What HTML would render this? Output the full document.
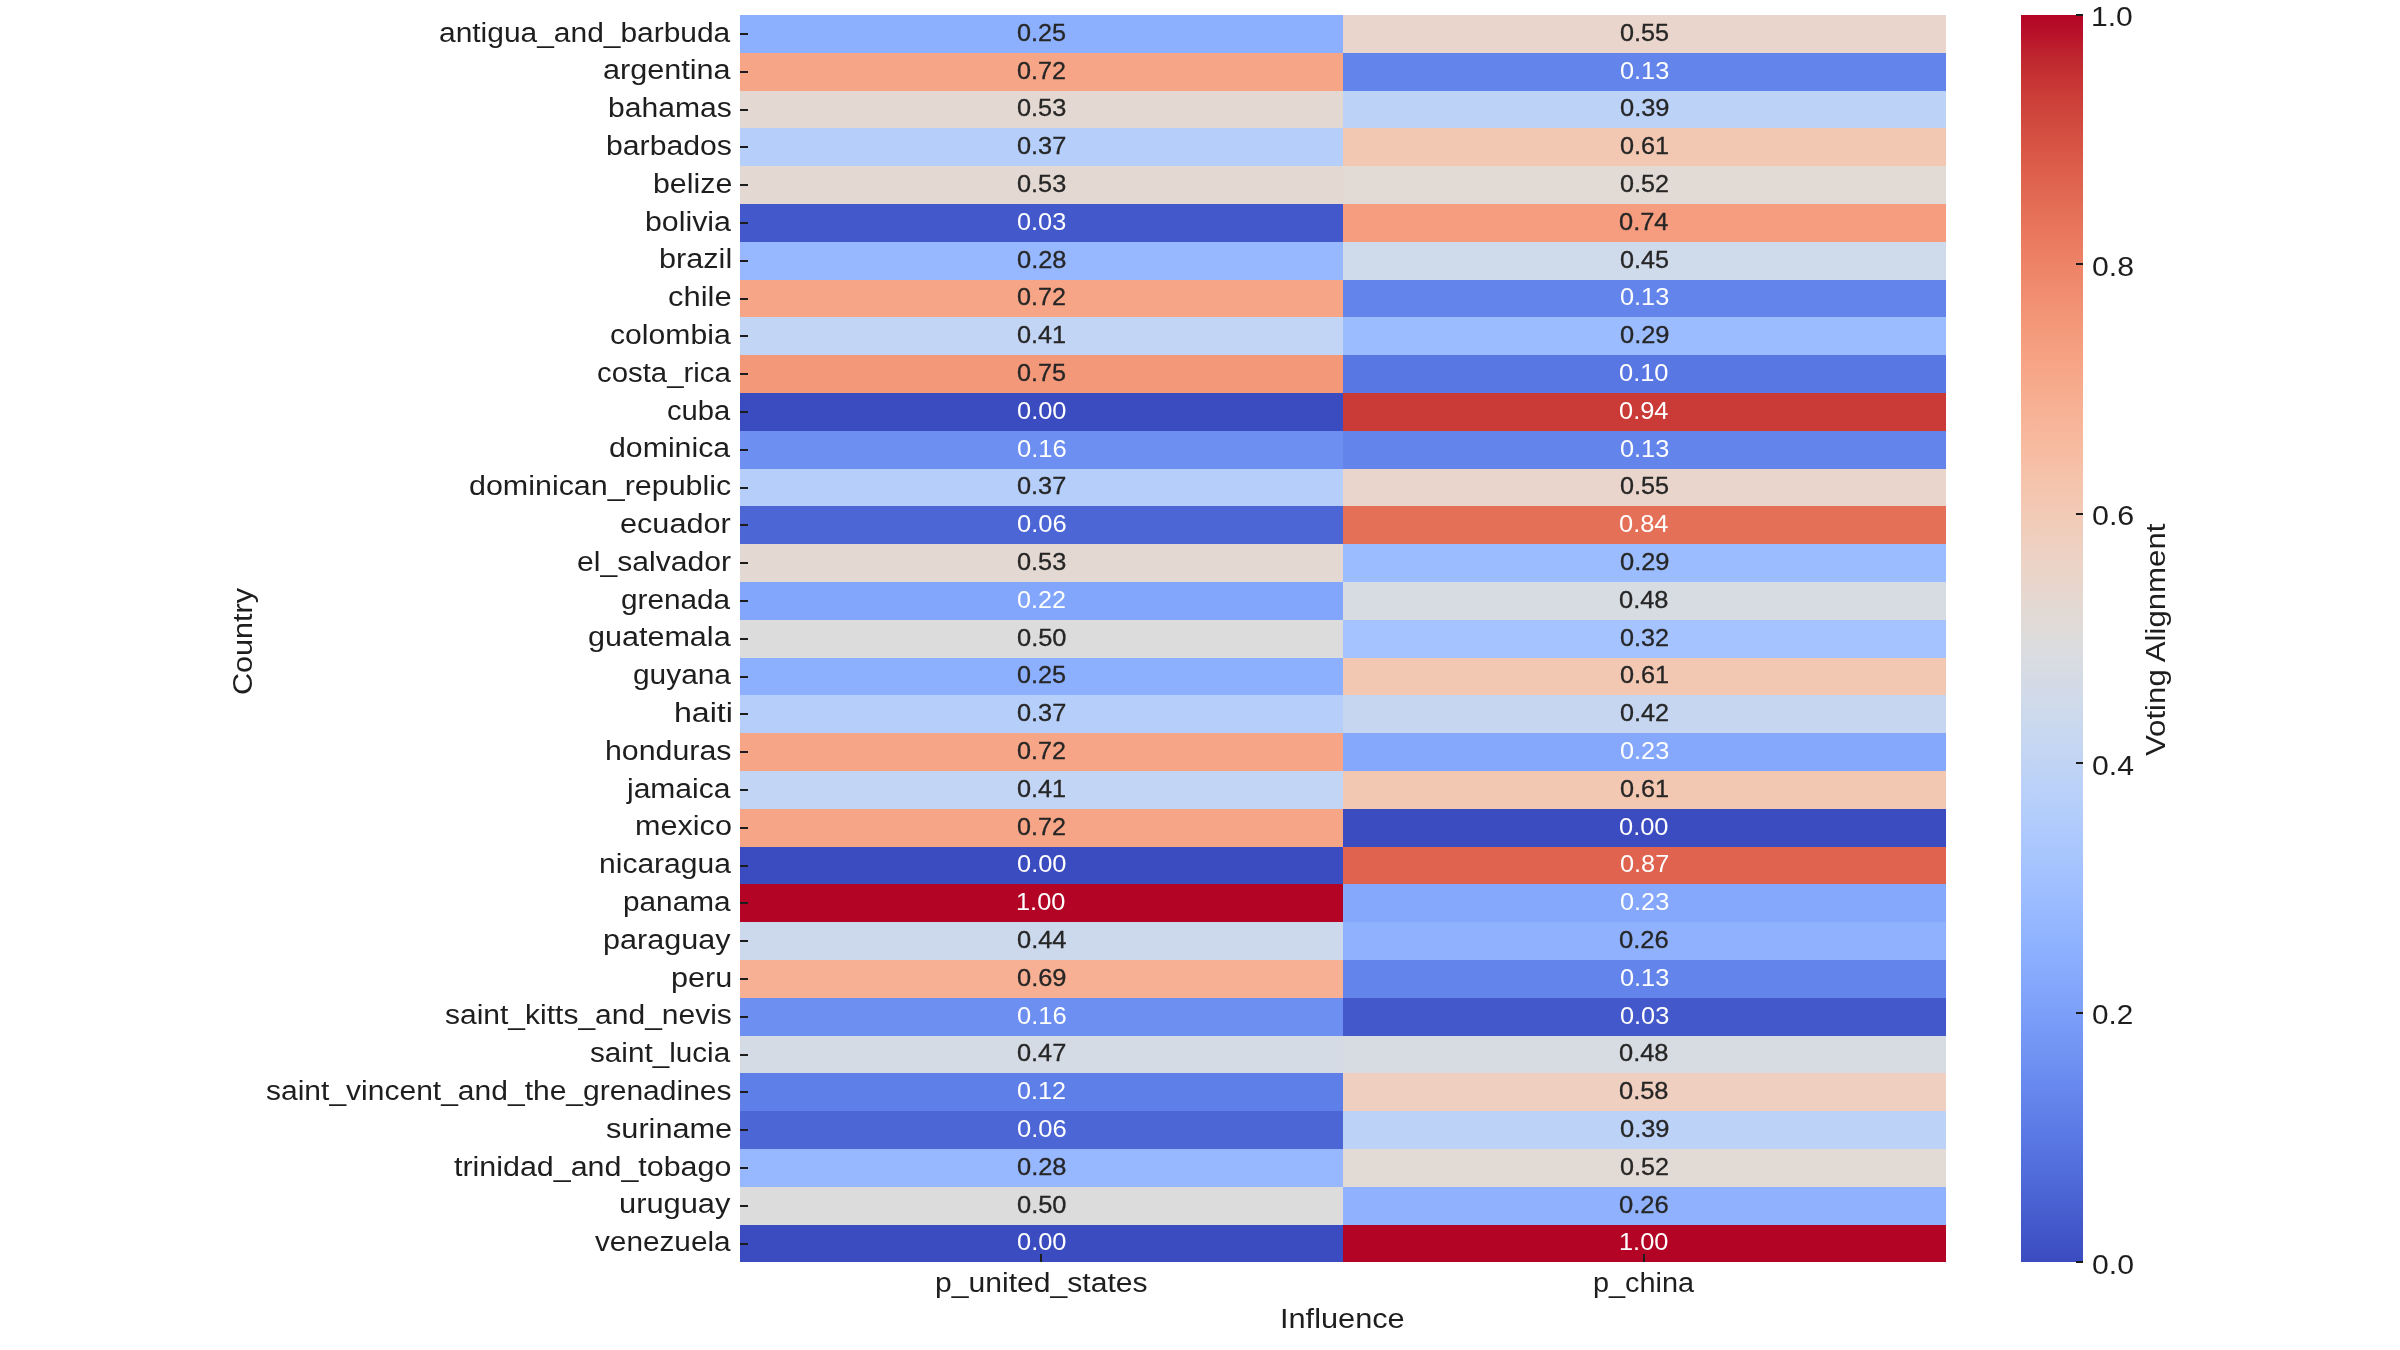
<!DOCTYPE html>
<html><head><meta charset="utf-8"><title>Voting Alignment Heatmap</title>
<style>
html,body{margin:0;padding:0;background:#ffffff;}
body{width:2400px;height:1350px;position:relative;overflow:hidden;font-family:"Liberation Sans",sans-serif;}
#fig{position:absolute;left:0;top:0;width:2400px;height:1350px;filter:grayscale(0);}
.c{position:absolute;}
.t{position:absolute;line-height:0;white-space:nowrap;transform-origin:0 0;}
.tk{position:absolute;background:#1c1c1c;}
.rw{position:absolute;width:0;height:0;transform:rotate(-90deg);transform-origin:0 0;}
</style></head><body>
<div id="fig">
<div id="heatmap">
<div class="c" style="left:740.00px;top:15.00px;width:603.30px;height:38.30px;background:#8db0fe"></div>
<div class="c" style="left:1342.80px;top:15.00px;width:602.80px;height:38.30px;background:#e9d5cb"></div>
<div class="c" style="left:740.00px;top:52.80px;width:603.30px;height:38.30px;background:#f6a586"></div>
<div class="c" style="left:1342.80px;top:52.80px;width:602.80px;height:38.30px;background:#6384eb"></div>
<div class="c" style="left:740.00px;top:90.60px;width:603.30px;height:38.30px;background:#e4d9d2"></div>
<div class="c" style="left:1342.80px;top:90.60px;width:602.80px;height:38.30px;background:#bcd2f7"></div>
<div class="c" style="left:740.00px;top:128.40px;width:603.30px;height:38.30px;background:#b6cefa"></div>
<div class="c" style="left:1342.80px;top:128.40px;width:602.80px;height:38.30px;background:#f3c8b2"></div>
<div class="c" style="left:740.00px;top:166.20px;width:603.30px;height:38.30px;background:#e4d9d2"></div>
<div class="c" style="left:1342.80px;top:166.20px;width:602.80px;height:38.30px;background:#e2dad5"></div>
<div class="c" style="left:740.00px;top:204.00px;width:603.30px;height:38.30px;background:#4358cb"></div>
<div class="c" style="left:1342.80px;top:204.00px;width:602.80px;height:38.30px;background:#f59d7e"></div>
<div class="c" style="left:740.00px;top:241.80px;width:603.30px;height:38.30px;background:#97b8ff"></div>
<div class="c" style="left:1342.80px;top:241.80px;width:602.80px;height:38.30px;background:#cfdaea"></div>
<div class="c" style="left:740.00px;top:279.60px;width:603.30px;height:38.30px;background:#f6a586"></div>
<div class="c" style="left:1342.80px;top:279.60px;width:602.80px;height:38.30px;background:#6384eb"></div>
<div class="c" style="left:740.00px;top:317.40px;width:603.30px;height:38.30px;background:#c3d5f4"></div>
<div class="c" style="left:1342.80px;top:317.40px;width:602.80px;height:38.30px;background:#9bbcff"></div>
<div class="c" style="left:740.00px;top:355.20px;width:603.30px;height:38.30px;background:#f4987a"></div>
<div class="c" style="left:1342.80px;top:355.20px;width:602.80px;height:38.30px;background:#5977e3"></div>
<div class="c" style="left:740.00px;top:393.00px;width:603.30px;height:38.30px;background:#3b4cc0"></div>
<div class="c" style="left:1342.80px;top:393.00px;width:602.80px;height:38.30px;background:#ca3b37"></div>
<div class="c" style="left:740.00px;top:430.80px;width:603.30px;height:38.30px;background:#6c8ff1"></div>
<div class="c" style="left:1342.80px;top:430.80px;width:602.80px;height:38.30px;background:#6384eb"></div>
<div class="c" style="left:740.00px;top:468.60px;width:603.30px;height:38.30px;background:#b6cefa"></div>
<div class="c" style="left:1342.80px;top:468.60px;width:602.80px;height:38.30px;background:#e9d5cb"></div>
<div class="c" style="left:740.00px;top:506.40px;width:603.30px;height:38.30px;background:#4c66d6"></div>
<div class="c" style="left:1342.80px;top:506.40px;width:602.80px;height:38.30px;background:#e57058"></div>
<div class="c" style="left:740.00px;top:544.20px;width:603.30px;height:38.30px;background:#e4d9d2"></div>
<div class="c" style="left:1342.80px;top:544.20px;width:602.80px;height:38.30px;background:#9bbcff"></div>
<div class="c" style="left:740.00px;top:582.00px;width:603.30px;height:38.30px;background:#82a6fb"></div>
<div class="c" style="left:1342.80px;top:582.00px;width:602.80px;height:38.30px;background:#d7dce3"></div>
<div class="c" style="left:740.00px;top:619.80px;width:603.30px;height:38.30px;background:#dddcdc"></div>
<div class="c" style="left:1342.80px;top:619.80px;width:602.80px;height:38.30px;background:#a5c3fe"></div>
<div class="c" style="left:740.00px;top:657.60px;width:603.30px;height:38.30px;background:#8db0fe"></div>
<div class="c" style="left:1342.80px;top:657.60px;width:602.80px;height:38.30px;background:#f3c8b2"></div>
<div class="c" style="left:740.00px;top:695.40px;width:603.30px;height:38.30px;background:#b6cefa"></div>
<div class="c" style="left:1342.80px;top:695.40px;width:602.80px;height:38.30px;background:#c6d6f1"></div>
<div class="c" style="left:740.00px;top:733.20px;width:603.30px;height:38.30px;background:#f6a586"></div>
<div class="c" style="left:1342.80px;top:733.20px;width:602.80px;height:38.30px;background:#85a8fc"></div>
<div class="c" style="left:740.00px;top:771.00px;width:603.30px;height:38.30px;background:#c3d5f4"></div>
<div class="c" style="left:1342.80px;top:771.00px;width:602.80px;height:38.30px;background:#f3c8b2"></div>
<div class="c" style="left:740.00px;top:808.80px;width:603.30px;height:38.30px;background:#f6a586"></div>
<div class="c" style="left:1342.80px;top:808.80px;width:602.80px;height:38.30px;background:#3b4cc0"></div>
<div class="c" style="left:740.00px;top:846.60px;width:603.30px;height:38.30px;background:#3b4cc0"></div>
<div class="c" style="left:1342.80px;top:846.60px;width:602.80px;height:38.30px;background:#df634e"></div>
<div class="c" style="left:740.00px;top:884.40px;width:603.30px;height:38.30px;background:#b40426"></div>
<div class="c" style="left:1342.80px;top:884.40px;width:602.80px;height:38.30px;background:#85a8fc"></div>
<div class="c" style="left:740.00px;top:922.20px;width:603.30px;height:38.30px;background:#ccd9ed"></div>
<div class="c" style="left:1342.80px;top:922.20px;width:602.80px;height:38.30px;background:#90b2fe"></div>
<div class="c" style="left:740.00px;top:960.00px;width:603.30px;height:38.30px;background:#f7b093"></div>
<div class="c" style="left:1342.80px;top:960.00px;width:602.80px;height:38.30px;background:#6384eb"></div>
<div class="c" style="left:740.00px;top:997.80px;width:603.30px;height:38.30px;background:#6c8ff1"></div>
<div class="c" style="left:1342.80px;top:997.80px;width:602.80px;height:38.30px;background:#4358cb"></div>
<div class="c" style="left:740.00px;top:1035.60px;width:603.30px;height:38.30px;background:#d5dbe5"></div>
<div class="c" style="left:1342.80px;top:1035.60px;width:602.80px;height:38.30px;background:#d7dce3"></div>
<div class="c" style="left:740.00px;top:1073.40px;width:603.30px;height:38.30px;background:#5f7fe8"></div>
<div class="c" style="left:1342.80px;top:1073.40px;width:602.80px;height:38.30px;background:#efcfbf"></div>
<div class="c" style="left:740.00px;top:1111.20px;width:603.30px;height:38.30px;background:#4c66d6"></div>
<div class="c" style="left:1342.80px;top:1111.20px;width:602.80px;height:38.30px;background:#bcd2f7"></div>
<div class="c" style="left:740.00px;top:1149.00px;width:603.30px;height:38.30px;background:#97b8ff"></div>
<div class="c" style="left:1342.80px;top:1149.00px;width:602.80px;height:38.30px;background:#e2dad5"></div>
<div class="c" style="left:740.00px;top:1186.80px;width:603.30px;height:38.30px;background:#dddcdc"></div>
<div class="c" style="left:1342.80px;top:1186.80px;width:602.80px;height:38.30px;background:#90b2fe"></div>
<div class="c" style="left:740.00px;top:1224.60px;width:603.30px;height:37.80px;background:#3b4cc0"></div>
<div class="c" style="left:1342.80px;top:1224.60px;width:602.80px;height:37.80px;background:#b40426"></div>
</div>
<div id="colorbar">
<div class="c" style="left:2021.0px;top:15.0px;width:62.30px;height:1247.40px;background:linear-gradient(to top,#3b4cc0 0.00%,#3f53c6 1.56%,#445acc 3.12%,#4961d2 4.69%,#4e68d8 6.25%,#536edd 7.81%,#5875e1 9.38%,#5d7ce6 10.94%,#6282ea 12.50%,#6788ee 14.06%,#6c8ff1 15.62%,#7295f4 17.19%,#779af7 18.75%,#7da0f9 20.31%,#82a6fb 21.88%,#88abfd 23.44%,#8db0fe 25.00%,#93b5fe 26.56%,#98b9ff 28.12%,#9ebeff 29.69%,#a3c2fe 31.25%,#a9c6fd 32.81%,#aec9fc 34.38%,#b3cdfb 35.94%,#b9d0f9 37.50%,#bed2f6 39.06%,#c3d5f4 40.62%,#c7d7f0 42.19%,#ccd9ed 43.75%,#d1dae9 45.31%,#d5dbe5 46.88%,#d9dce1 48.44%,#dddcdc 50.00%,#e1dad6 51.56%,#e5d8d1 53.12%,#e9d5cb 54.69%,#ecd3c5 56.25%,#efcfbf 57.81%,#f1ccb8 59.38%,#f3c8b2 60.94%,#f5c4ac 62.50%,#f6bfa6 64.06%,#f7ba9f 65.62%,#f7b599 67.19%,#f7b093 68.75%,#f7aa8c 70.31%,#f6a586 71.88%,#f59f80 73.44%,#f4987a 75.00%,#f29274 76.56%,#f08b6e 78.12%,#ee8468 79.69%,#eb7d62 81.25%,#e8765c 82.81%,#e46e56 84.38%,#e16751 85.94%,#dd5f4b 87.50%,#d85646 89.06%,#d44e41 90.62%,#cf453c 92.19%,#ca3b37 93.75%,#c43032 95.31%,#be242e 96.88%,#b8122a 98.44%,#b40426 100.00%)"></div>
</div>
<div id="ticks">
<div class="tk" style="left:740px;top:33px;width:8px;height:2px"></div>
<div class="tk" style="left:740px;top:71px;width:8px;height:2px"></div>
<div class="tk" style="left:740px;top:109px;width:8px;height:2px"></div>
<div class="tk" style="left:740px;top:146px;width:8px;height:2px"></div>
<div class="tk" style="left:740px;top:184px;width:8px;height:2px"></div>
<div class="tk" style="left:740px;top:222px;width:8px;height:2px"></div>
<div class="tk" style="left:740px;top:260px;width:8px;height:2px"></div>
<div class="tk" style="left:740px;top:298px;width:8px;height:2px"></div>
<div class="tk" style="left:740px;top:335px;width:8px;height:2px"></div>
<div class="tk" style="left:740px;top:373px;width:8px;height:2px"></div>
<div class="tk" style="left:740px;top:411px;width:8px;height:2px"></div>
<div class="tk" style="left:740px;top:449px;width:8px;height:2px"></div>
<div class="tk" style="left:740px;top:487px;width:8px;height:2px"></div>
<div class="tk" style="left:740px;top:524px;width:8px;height:2px"></div>
<div class="tk" style="left:740px;top:562px;width:8px;height:2px"></div>
<div class="tk" style="left:740px;top:600px;width:8px;height:2px"></div>
<div class="tk" style="left:740px;top:638px;width:8px;height:2px"></div>
<div class="tk" style="left:740px;top:676px;width:8px;height:2px"></div>
<div class="tk" style="left:740px;top:713px;width:8px;height:2px"></div>
<div class="tk" style="left:740px;top:751px;width:8px;height:2px"></div>
<div class="tk" style="left:740px;top:789px;width:8px;height:2px"></div>
<div class="tk" style="left:740px;top:827px;width:8px;height:2px"></div>
<div class="tk" style="left:740px;top:865px;width:8px;height:2px"></div>
<div class="tk" style="left:740px;top:902px;width:8px;height:2px"></div>
<div class="tk" style="left:740px;top:940px;width:8px;height:2px"></div>
<div class="tk" style="left:740px;top:978px;width:8px;height:2px"></div>
<div class="tk" style="left:740px;top:1016px;width:8px;height:2px"></div>
<div class="tk" style="left:740px;top:1054px;width:8px;height:2px"></div>
<div class="tk" style="left:740px;top:1091px;width:8px;height:2px"></div>
<div class="tk" style="left:740px;top:1129px;width:8px;height:2px"></div>
<div class="tk" style="left:740px;top:1167px;width:8px;height:2px"></div>
<div class="tk" style="left:740px;top:1205px;width:8px;height:2px"></div>
<div class="tk" style="left:740px;top:1243px;width:8px;height:2px"></div>
<div class="tk" style="left:1040px;top:1254px;width:2px;height:8px"></div>
<div class="tk" style="left:1643px;top:1254px;width:2px;height:8px"></div>
<div class="tk" style="left:2076px;top:1261px;width:7px;height:2px"></div>
<div class="tk" style="left:2076px;top:1012px;width:7px;height:2px"></div>
<div class="tk" style="left:2076px;top:762px;width:7px;height:2px"></div>
<div class="tk" style="left:2076px;top:513px;width:7px;height:2px"></div>
<div class="tk" style="left:2076px;top:263px;width:7px;height:2px"></div>
<div class="tk" style="left:2076px;top:14px;width:7px;height:2px"></div>
</div>
<div id="annotations">
<div class="t" style="left:1016.89px;top:32.71px;font-size:23.9px;transform:scaleX(1.0544);color:#262626;-webkit-text-stroke:0.3px #262626">0.25</div>
<div class="t" style="left:1619.69px;top:32.71px;font-size:23.9px;transform:scaleX(1.0544);color:#262626;-webkit-text-stroke:0.3px #262626">0.55</div>
<div class="t" style="left:1017.06px;top:70.51px;font-size:23.9px;transform:scaleX(1.0524);color:#262626;-webkit-text-stroke:0.3px #262626">0.72</div>
<div class="t" style="left:1619.63px;top:70.51px;font-size:23.9px;transform:scaleX(1.0598);color:#ffffff">0.13</div>
<div class="t" style="left:1016.83px;top:108.31px;font-size:23.9px;transform:scaleX(1.0598);color:#262626;-webkit-text-stroke:0.3px #262626">0.53</div>
<div class="t" style="left:1619.51px;top:108.31px;font-size:23.9px;transform:scaleX(1.0649);color:#262626;-webkit-text-stroke:0.3px #262626">0.39</div>
<div class="t" style="left:1016.89px;top:146.11px;font-size:23.9px;transform:scaleX(1.0601);color:#262626;-webkit-text-stroke:0.3px #262626">0.37</div>
<div class="t" style="left:1619.75px;top:146.11px;font-size:23.9px;transform:scaleX(1.0575);color:#262626;-webkit-text-stroke:0.3px #262626">0.61</div>
<div class="t" style="left:1016.83px;top:183.91px;font-size:23.9px;transform:scaleX(1.0598);color:#262626;-webkit-text-stroke:0.3px #262626">0.53</div>
<div class="t" style="left:1619.86px;top:183.91px;font-size:23.9px;transform:scaleX(1.0524);color:#262626;-webkit-text-stroke:0.3px #262626">0.52</div>
<div class="t" style="left:1016.83px;top:221.71px;font-size:23.9px;transform:scaleX(1.0598);color:#ffffff">0.03</div>
<div class="t" style="left:1619.34px;top:221.71px;font-size:23.9px;transform:scaleX(1.0639);color:#262626;-webkit-text-stroke:0.3px #262626">0.74</div>
<div class="t" style="left:1016.66px;top:259.51px;font-size:23.9px;transform:scaleX(1.0646);color:#262626;-webkit-text-stroke:0.3px #262626">0.28</div>
<div class="t" style="left:1619.69px;top:259.51px;font-size:23.9px;transform:scaleX(1.0544);color:#262626;-webkit-text-stroke:0.3px #262626">0.45</div>
<div class="t" style="left:1017.06px;top:297.31px;font-size:23.9px;transform:scaleX(1.0524);color:#262626;-webkit-text-stroke:0.3px #262626">0.72</div>
<div class="t" style="left:1619.63px;top:297.31px;font-size:23.9px;transform:scaleX(1.0598);color:#ffffff">0.13</div>
<div class="t" style="left:1016.95px;top:335.11px;font-size:23.9px;transform:scaleX(1.0575);color:#262626;-webkit-text-stroke:0.3px #262626">0.41</div>
<div class="t" style="left:1619.51px;top:335.11px;font-size:23.9px;transform:scaleX(1.0649);color:#262626;-webkit-text-stroke:0.3px #262626">0.29</div>
<div class="t" style="left:1016.89px;top:372.91px;font-size:23.9px;transform:scaleX(1.0544);color:#262626;-webkit-text-stroke:0.3px #262626">0.75</div>
<div class="t" style="left:1619.46px;top:372.91px;font-size:23.9px;transform:scaleX(1.0646);color:#ffffff">0.10</div>
<div class="t" style="left:1016.66px;top:410.71px;font-size:23.9px;transform:scaleX(1.0646);color:#ffffff">0.00</div>
<div class="t" style="left:1619.34px;top:410.71px;font-size:23.9px;transform:scaleX(1.0639);color:#ffffff">0.94</div>
<div class="t" style="left:1016.59px;top:448.51px;font-size:23.9px;transform:scaleX(1.0700);color:#ffffff">0.16</div>
<div class="t" style="left:1619.63px;top:448.51px;font-size:23.9px;transform:scaleX(1.0598);color:#ffffff">0.13</div>
<div class="t" style="left:1016.89px;top:486.31px;font-size:23.9px;transform:scaleX(1.0601);color:#262626;-webkit-text-stroke:0.3px #262626">0.37</div>
<div class="t" style="left:1619.69px;top:486.31px;font-size:23.9px;transform:scaleX(1.0544);color:#262626;-webkit-text-stroke:0.3px #262626">0.55</div>
<div class="t" style="left:1016.59px;top:524.11px;font-size:23.9px;transform:scaleX(1.0700);color:#ffffff">0.06</div>
<div class="t" style="left:1619.34px;top:524.11px;font-size:23.9px;transform:scaleX(1.0639);color:#ffffff">0.84</div>
<div class="t" style="left:1016.83px;top:561.91px;font-size:23.9px;transform:scaleX(1.0598);color:#262626;-webkit-text-stroke:0.3px #262626">0.53</div>
<div class="t" style="left:1619.51px;top:561.91px;font-size:23.9px;transform:scaleX(1.0649);color:#262626;-webkit-text-stroke:0.3px #262626">0.29</div>
<div class="t" style="left:1017.06px;top:599.71px;font-size:23.9px;transform:scaleX(1.0524);color:#ffffff">0.22</div>
<div class="t" style="left:1619.46px;top:599.71px;font-size:23.9px;transform:scaleX(1.0646);color:#262626;-webkit-text-stroke:0.3px #262626">0.48</div>
<div class="t" style="left:1016.66px;top:637.51px;font-size:23.9px;transform:scaleX(1.0646);color:#262626;-webkit-text-stroke:0.3px #262626">0.50</div>
<div class="t" style="left:1619.86px;top:637.51px;font-size:23.9px;transform:scaleX(1.0524);color:#262626;-webkit-text-stroke:0.3px #262626">0.32</div>
<div class="t" style="left:1016.89px;top:675.31px;font-size:23.9px;transform:scaleX(1.0544);color:#262626;-webkit-text-stroke:0.3px #262626">0.25</div>
<div class="t" style="left:1619.75px;top:675.31px;font-size:23.9px;transform:scaleX(1.0575);color:#262626;-webkit-text-stroke:0.3px #262626">0.61</div>
<div class="t" style="left:1016.89px;top:713.11px;font-size:23.9px;transform:scaleX(1.0601);color:#262626;-webkit-text-stroke:0.3px #262626">0.37</div>
<div class="t" style="left:1619.86px;top:713.11px;font-size:23.9px;transform:scaleX(1.0524);color:#262626;-webkit-text-stroke:0.3px #262626">0.42</div>
<div class="t" style="left:1017.06px;top:750.91px;font-size:23.9px;transform:scaleX(1.0524);color:#262626;-webkit-text-stroke:0.3px #262626">0.72</div>
<div class="t" style="left:1619.63px;top:750.91px;font-size:23.9px;transform:scaleX(1.0598);color:#ffffff">0.23</div>
<div class="t" style="left:1016.95px;top:788.71px;font-size:23.9px;transform:scaleX(1.0575);color:#262626;-webkit-text-stroke:0.3px #262626">0.41</div>
<div class="t" style="left:1619.75px;top:788.71px;font-size:23.9px;transform:scaleX(1.0575);color:#262626;-webkit-text-stroke:0.3px #262626">0.61</div>
<div class="t" style="left:1017.06px;top:826.51px;font-size:23.9px;transform:scaleX(1.0524);color:#262626;-webkit-text-stroke:0.3px #262626">0.72</div>
<div class="t" style="left:1619.46px;top:826.51px;font-size:23.9px;transform:scaleX(1.0646);color:#ffffff">0.00</div>
<div class="t" style="left:1016.66px;top:864.31px;font-size:23.9px;transform:scaleX(1.0646);color:#ffffff">0.00</div>
<div class="t" style="left:1619.69px;top:864.31px;font-size:23.9px;transform:scaleX(1.0601);color:#ffffff">0.87</div>
<div class="t" style="left:1016.28px;top:902.11px;font-size:23.9px;transform:scaleX(1.0616);color:#ffffff">1.00</div>
<div class="t" style="left:1619.63px;top:902.11px;font-size:23.9px;transform:scaleX(1.0598);color:#ffffff">0.23</div>
<div class="t" style="left:1016.54px;top:939.91px;font-size:23.9px;transform:scaleX(1.0639);color:#262626;-webkit-text-stroke:0.3px #262626">0.44</div>
<div class="t" style="left:1619.39px;top:939.91px;font-size:23.9px;transform:scaleX(1.0700);color:#262626;-webkit-text-stroke:0.3px #262626">0.26</div>
<div class="t" style="left:1016.71px;top:977.71px;font-size:23.9px;transform:scaleX(1.0649);color:#262626;-webkit-text-stroke:0.3px #262626">0.69</div>
<div class="t" style="left:1619.63px;top:977.71px;font-size:23.9px;transform:scaleX(1.0598);color:#ffffff">0.13</div>
<div class="t" style="left:1016.59px;top:1015.51px;font-size:23.9px;transform:scaleX(1.0700);color:#ffffff">0.16</div>
<div class="t" style="left:1619.63px;top:1015.51px;font-size:23.9px;transform:scaleX(1.0598);color:#ffffff">0.03</div>
<div class="t" style="left:1016.89px;top:1053.31px;font-size:23.9px;transform:scaleX(1.0601);color:#262626;-webkit-text-stroke:0.3px #262626">0.47</div>
<div class="t" style="left:1619.46px;top:1053.31px;font-size:23.9px;transform:scaleX(1.0646);color:#262626;-webkit-text-stroke:0.3px #262626">0.48</div>
<div class="t" style="left:1017.06px;top:1091.11px;font-size:23.9px;transform:scaleX(1.0524);color:#ffffff">0.12</div>
<div class="t" style="left:1619.46px;top:1091.11px;font-size:23.9px;transform:scaleX(1.0646);color:#262626;-webkit-text-stroke:0.3px #262626">0.58</div>
<div class="t" style="left:1016.59px;top:1128.91px;font-size:23.9px;transform:scaleX(1.0700);color:#ffffff">0.06</div>
<div class="t" style="left:1619.51px;top:1128.91px;font-size:23.9px;transform:scaleX(1.0649);color:#262626;-webkit-text-stroke:0.3px #262626">0.39</div>
<div class="t" style="left:1016.66px;top:1166.71px;font-size:23.9px;transform:scaleX(1.0646);color:#262626;-webkit-text-stroke:0.3px #262626">0.28</div>
<div class="t" style="left:1619.86px;top:1166.71px;font-size:23.9px;transform:scaleX(1.0524);color:#262626;-webkit-text-stroke:0.3px #262626">0.52</div>
<div class="t" style="left:1016.66px;top:1204.51px;font-size:23.9px;transform:scaleX(1.0646);color:#262626;-webkit-text-stroke:0.3px #262626">0.50</div>
<div class="t" style="left:1619.39px;top:1204.51px;font-size:23.9px;transform:scaleX(1.0700);color:#262626;-webkit-text-stroke:0.3px #262626">0.26</div>
<div class="t" style="left:1016.66px;top:1242.31px;font-size:23.9px;transform:scaleX(1.0646);color:#ffffff">0.00</div>
<div class="t" style="left:1619.08px;top:1242.31px;font-size:23.9px;transform:scaleX(1.0616);color:#ffffff">1.00</div>
</div>
<div id="labels">
<div class="t" style="left:439.18px;top:31.55px;font-size:28.4px;transform:scaleX(1.0542);color:#1e1e1e">antigua_and_barbuda</div>
<div class="t" style="left:602.97px;top:69.35px;font-size:28.4px;transform:scaleX(1.0768);color:#1e1e1e">argentina</div>
<div class="t" style="left:607.68px;top:107.15px;font-size:28.4px;transform:scaleX(1.0600);color:#1e1e1e">bahamas</div>
<div class="t" style="left:605.64px;top:144.95px;font-size:28.4px;transform:scaleX(1.0632);color:#1e1e1e">barbados</div>
<div class="t" style="left:652.65px;top:182.75px;font-size:28.4px;transform:scaleX(1.0687);color:#1e1e1e">belize</div>
<div class="t" style="left:644.52px;top:220.55px;font-size:28.4px;transform:scaleX(1.0679);color:#1e1e1e">bolivia</div>
<div class="t" style="left:659.27px;top:258.35px;font-size:28.4px;transform:scaleX(1.0788);color:#1e1e1e">brazil</div>
<div class="t" style="left:668.27px;top:296.15px;font-size:28.4px;transform:scaleX(1.0902);color:#1e1e1e">chile</div>
<div class="t" style="left:609.77px;top:333.95px;font-size:28.4px;transform:scaleX(1.0628);color:#1e1e1e">colombia</div>
<div class="t" style="left:596.66px;top:371.75px;font-size:28.4px;transform:scaleX(1.0346);color:#1e1e1e">costa_rica</div>
<div class="t" style="left:667.26px;top:409.55px;font-size:28.4px;transform:scaleX(1.0285);color:#1e1e1e">cuba</div>
<div class="t" style="left:609.37px;top:447.35px;font-size:28.4px;transform:scaleX(1.0663);color:#1e1e1e">dominica</div>
<div class="t" style="left:468.99px;top:485.15px;font-size:28.4px;transform:scaleX(1.0720);color:#1e1e1e">dominican_republic</div>
<div class="t" style="left:620.31px;top:522.95px;font-size:28.4px;transform:scaleX(1.0792);color:#1e1e1e">ecuador</div>
<div class="t" style="left:577.11px;top:560.75px;font-size:28.4px;transform:scaleX(1.0600);color:#1e1e1e">el_salvador</div>
<div class="t" style="left:621.32px;top:598.55px;font-size:28.4px;transform:scaleX(1.0475);color:#1e1e1e">grenada</div>
<div class="t" style="left:587.82px;top:636.35px;font-size:28.4px;transform:scaleX(1.0758);color:#1e1e1e">guatemala</div>
<div class="t" style="left:632.56px;top:674.15px;font-size:28.4px;transform:scaleX(1.0514);color:#1e1e1e">guyana</div>
<div class="t" style="left:673.78px;top:711.95px;font-size:28.4px;transform:scaleX(1.1316);color:#1e1e1e">haiti</div>
<div class="t" style="left:605.07px;top:749.75px;font-size:28.4px;transform:scaleX(1.0681);color:#1e1e1e">honduras</div>
<div class="t" style="left:627.05px;top:787.55px;font-size:28.4px;transform:scaleX(1.0573);color:#1e1e1e">jamaica</div>
<div class="t" style="left:634.88px;top:825.35px;font-size:28.4px;transform:scaleX(1.0774);color:#1e1e1e">mexico</div>
<div class="t" style="left:598.60px;top:863.15px;font-size:28.4px;transform:scaleX(1.0579);color:#1e1e1e">nicaragua</div>
<div class="t" style="left:622.87px;top:900.95px;font-size:28.4px;transform:scaleX(1.0483);color:#1e1e1e">panama</div>
<div class="t" style="left:603.18px;top:938.75px;font-size:28.4px;transform:scaleX(1.0764);color:#1e1e1e">paraguay</div>
<div class="t" style="left:671.19px;top:976.55px;font-size:28.4px;transform:scaleX(1.0792);color:#1e1e1e">peru</div>
<div class="t" style="left:444.64px;top:1014.35px;font-size:28.4px;transform:scaleX(1.0567);color:#1e1e1e">saint_kitts_and_nevis</div>
<div class="t" style="left:590.32px;top:1052.15px;font-size:28.4px;transform:scaleX(1.0447);color:#1e1e1e">saint_lucia</div>
<div class="t" style="left:265.78px;top:1089.95px;font-size:28.4px;transform:scaleX(1.0571);color:#1e1e1e">saint_vincent_and_the_grenadines</div>
<div class="t" style="left:605.73px;top:1127.75px;font-size:28.4px;transform:scaleX(1.0807);color:#1e1e1e">suriname</div>
<div class="t" style="left:454.30px;top:1165.55px;font-size:28.4px;transform:scaleX(1.0711);color:#1e1e1e">trinidad_and_tobago</div>
<div class="t" style="left:619.15px;top:1203.35px;font-size:28.4px;transform:scaleX(1.0861);color:#1e1e1e">uruguay</div>
<div class="t" style="left:594.85px;top:1241.15px;font-size:28.4px;transform:scaleX(1.0474);color:#1e1e1e">venezuela</div>
<div class="t" style="left:934.63px;top:1281.65px;font-size:28.4px;transform:scaleX(1.0605);color:#1e1e1e">p_united_states</div>
<div class="t" style="left:1592.73px;top:1281.65px;font-size:28.4px;transform:scaleX(1.0167);color:#1e1e1e">p_china</div>
<div class="t" style="left:1279.74px;top:1318.25px;font-size:28.4px;transform:scaleX(1.0819);color:#1e1e1e">Influence</div>
<div class="rw" style="left:252.00px;top:641.00px"><div class="t" style="left:-54.17px;top:-9.85px;font-size:28.4px;transform:scaleX(1.0761);color:#1e1e1e">Country</div></div>
<div class="rw" style="left:2165.30px;top:640.00px"><div class="t" style="left:-116.21px;top:-9.85px;font-size:28.4px;transform:scaleX(1.0993);color:#1e1e1e">Voting Alignment</div></div>
<div class="t" style="left:2091.79px;top:1263.55px;font-size:28.4px;transform:scaleX(1.0635);color:#1e1e1e">0.0</div>
<div class="t" style="left:2091.81px;top:1014.07px;font-size:28.4px;transform:scaleX(1.0460);color:#1e1e1e">0.2</div>
<div class="t" style="left:2091.79px;top:764.59px;font-size:28.4px;transform:scaleX(1.0627);color:#1e1e1e">0.4</div>
<div class="t" style="left:2091.78px;top:515.11px;font-size:28.4px;transform:scaleX(1.0712);color:#1e1e1e">0.6</div>
<div class="t" style="left:2091.79px;top:265.63px;font-size:28.4px;transform:scaleX(1.0635);color:#1e1e1e">0.8</div>
<div class="t" style="left:2090.74px;top:16.15px;font-size:28.4px;transform:scaleX(1.0590);color:#1e1e1e">1.0</div>
</div>
</div>
</body></html>
